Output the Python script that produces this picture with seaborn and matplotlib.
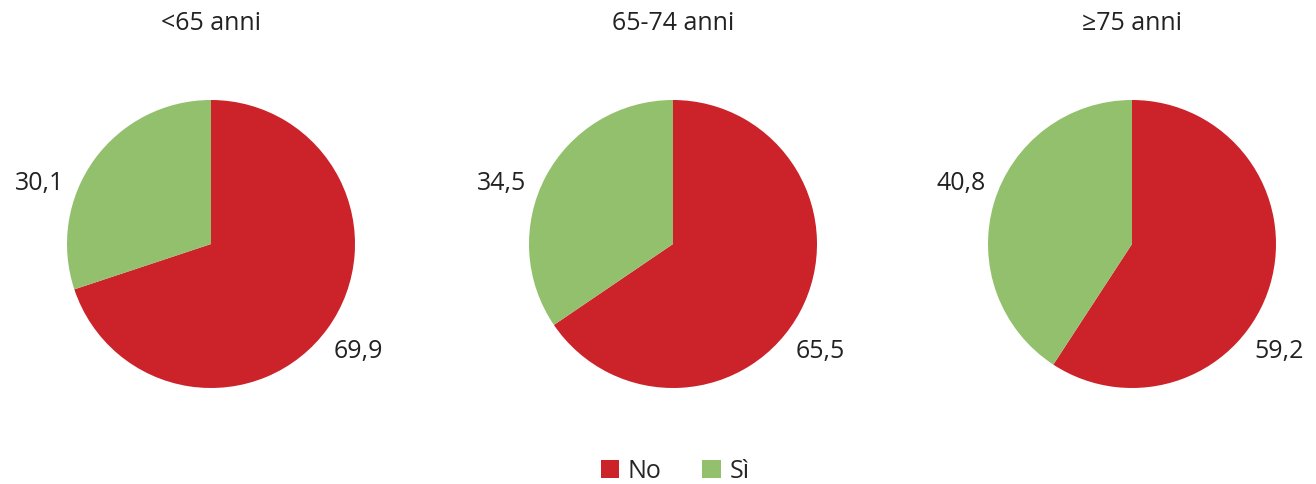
import matplotlib
matplotlib.use("Agg")
import matplotlib.pyplot as plt
import seaborn as sns
from matplotlib.patches import Patch

sns.set_theme(style="white")
plt.rcParams["font.family"] = ["Open Sans", "DejaVu Sans"]

# Age groups and shares (%) of "No" / "Sì" answers
groups = ["<65 anni", "65-74 anni", "≥75 anni"]
share_no = [69.9, 65.5, 59.2]
share_si = [30.1, 34.5, 40.8]
categories = ["No", "Sì"]
colors = ["#CC232A", "#92C06C"]

W, H = 1316, 485
fig = plt.figure(figsize=(W / 100, H / 100), dpi=100)

radius_px = 144
centers_x = [211, 673, 1132]
center_y = 245
fs = 18

def fmt(v):
    return f"{v:.1f}".replace(".", ",")

for cx, title, no, si in zip(centers_x, groups, share_no, share_si):
    ax = fig.add_axes([(cx - radius_px) / W, (H - center_y - radius_px) / H,
                       2 * radius_px / W, 2 * radius_px / H])
    ax.pie([no, si], colors=colors, startangle=90, counterclock=False,
           radius=1.0, wedgeprops=dict(linewidth=0))
    ax.set_xlim(-1, 1)
    ax.set_ylim(-1, 1)
    ax.set_aspect("equal")
    ax.axis("off")
    ax.text(0, 1.535, title, ha="center", va="center", fontsize=fs,
            color="#222222", clip_on=False)
    ax.text(-1.19, 0.43, fmt(si), ha="center", va="center", fontsize=fs,
            color="#222222", clip_on=False)
    ax.text(1.02, -0.74, fmt(no), ha="center", va="center", fontsize=fs,
            color="#222222", clip_on=False)

handles = [Patch(facecolor=c, edgecolor="none") for c in colors]
fig.legend(handles, categories, loc="center", bbox_to_anchor=(675 / W, 1 - 472 / H),
           ncol=2, frameon=False, fontsize=fs, handlelength=0.75, handleheight=0.75,
           columnspacing=1.6, handletextpad=0.35, borderpad=0.2)

fig.savefig("out.png", dpi=100)
